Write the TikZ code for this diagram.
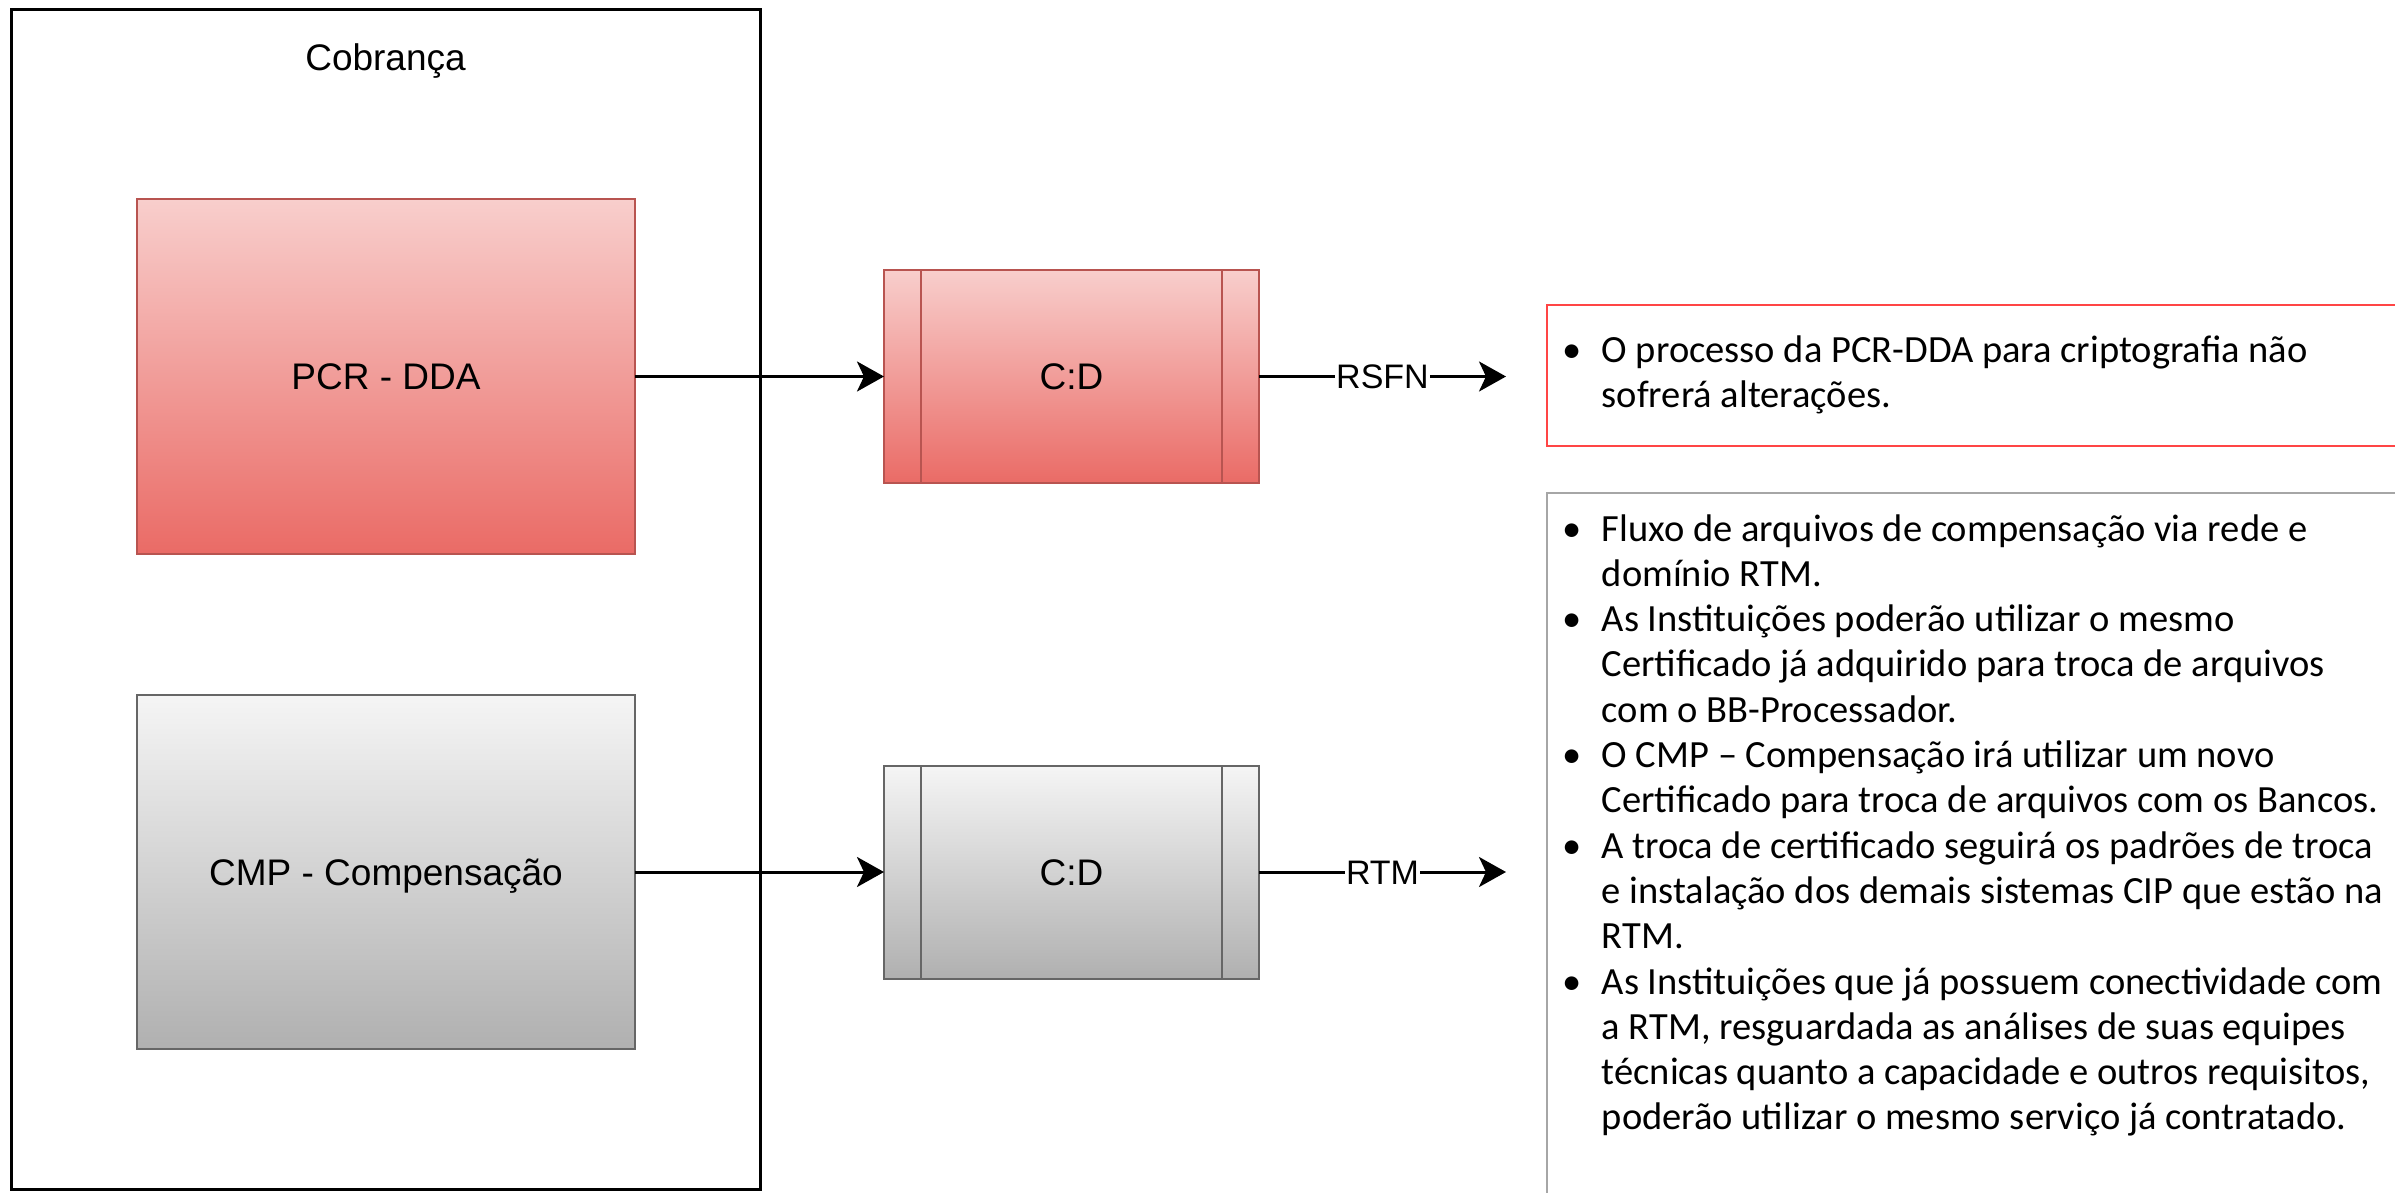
\documentclass[tikz,border=0pt]{standalone}
\usepackage{fontspec}
\setmainfont{Liberation Sans}
\newfontfamily\calfont{Carlito}
\usetikzlibrary{arrows.meta}
\definecolor{redtop}{HTML}{F8CECC}
\definecolor{redbot}{HTML}{EA6B66}
\definecolor{redstroke}{HTML}{B85450}
\definecolor{greytop}{HTML}{F5F5F5}
\definecolor{greybot}{HTML}{B0B0B0}
\definecolor{greystroke}{HTML}{666666}
\definecolor{notered}{HTML}{FF4545}
\definecolor{notegrey}{HTML}{A6A6A6}
\newcommand\bul{\makebox[39.6pt][l]{•}}
\newcommand\ind{\hskip39.6pt}
\newcommand\notefont{\calfont\fontsize{38.5}{45.3}\selectfont}
\begin{document}
\begin{tikzpicture}[x=1pt,y=-1pt,
  lbl/.style={font=\fontsize{37}{44}\selectfont, text height=26.5pt, text depth=0pt},
  redbox/.style={draw=redstroke, line width=2pt, top color=redtop, bottom color=redbot, inner sep=0pt, outer sep=0pt, lbl},
  greybox/.style={draw=greystroke, line width=2pt, top color=greytop, bottom color=greybot, inner sep=0pt, outer sep=0pt, lbl},
  bigbox/.style={minimum width=498pt, minimum height=354pt},
  procbox/.style={minimum width=375pt, minimum height=213pt},
  edgelbl/.style={font=\fontsize{34}{40}\selectfont, fill=white, inner sep=1pt, text height=24.5pt, text depth=0pt},
  flow/.style={line width=3pt, -{Stealth[length=27pt,width=30pt,inset=7pt]}},
]
\useasboundingbox (0,0) rectangle (2395,1193);
\fill[white] (0,0) rectangle (2395,1193);

% outer container
\node[draw=black, line width=3pt, minimum width=749pt, minimum height=1179pt, inner sep=0pt, outer sep=0pt] (frame) at (385.5,599.5) {};
\node[lbl, anchor=base, text height=, text depth=] (cobtitle) at (385.5,71) {Cobrança};

% boxes
\node[redbox, bigbox] (pcr) at (386,376.5) {PCR - DDA};
\node[greybox, bigbox] (cmp) at (386,872) {CMP - Compensação};

\node[redbox, procbox] (cd1) at (1071.5,376.5) {C:D};
\draw[redstroke, line width=2pt] ([xshift=37pt]cd1.north west) -- ([xshift=37pt]cd1.south west);
\draw[redstroke, line width=2pt] ([xshift=-37pt]cd1.north east) -- ([xshift=-37pt]cd1.south east);

\node[greybox, procbox] (cd2) at (1071.5,872) {C:D};
\draw[greystroke, line width=2pt] ([xshift=37pt]cd2.north west) -- ([xshift=37pt]cd2.south west);
\draw[greystroke, line width=2pt] ([xshift=-37pt]cd2.north east) -- ([xshift=-37pt]cd2.south east);

% connectors
\coordinate (e1) at (1506,376.5);
\coordinate (e2) at (1506,872);
\draw[flow] (pcr.east) -- (cd1.west);
\draw[flow] (cmp.east) -- (cd2.west);
\draw[flow] (cd1.east) -- node[edgelbl] (lrsfn) {RSFN} (e1);
\draw[flow] (cd2.east) -- node[edgelbl] (lrtm) {RTM} (e2);

% note boxes
\begin{scope}
\clip (0,0) rectangle (2395,1193);
\draw[notered, line width=2.5pt] (1547,305) rectangle (2430,446);
\draw[notegrey, line width=2pt] (1547,493) rectangle (2430,1240);
\end{scope}

\node[anchor=base west, inner sep=0pt, font=\notefont] (note1) at (1562,362) {\vtop{\baselineskip=45.3pt
\hbox{\bul O processo da PCR-DDA para criptografia não}
\hbox{\ind sofrerá alterações.}}};

\node[anchor=base west, inner sep=0pt, font=\notefont] (note2) at (1562,541) {\vtop{\baselineskip=45.3pt
\hbox{\bul Fluxo de arquivos de compensação via rede e}
\hbox{\ind domínio RTM.}
\hbox{\bul As Instituições poderão utilizar o mesmo}
\hbox{\ind Certificado já adquirido para troca de arquivos}
\hbox{\ind com o BB-Processador.}
\hbox{\bul O CMP – Compensação irá utilizar um novo}
\hbox{\ind Certificado para troca de arquivos com os Bancos.}
\hbox{\bul A troca de certificado seguirá os padrões de troca}
\hbox{\ind e instalação dos demais sistemas CIP que estão na}
\hbox{\ind RTM.}
\hbox{\bul As Instituições que já possuem conectividade com}
\hbox{\ind a RTM, resguardada as análises de suas equipes}
\hbox{\ind técnicas quanto a capacidade e outros requisitos,}
\hbox{\ind poderão utilizar o mesmo serviço já contratado.}}};
\end{tikzpicture}
\end{document}
